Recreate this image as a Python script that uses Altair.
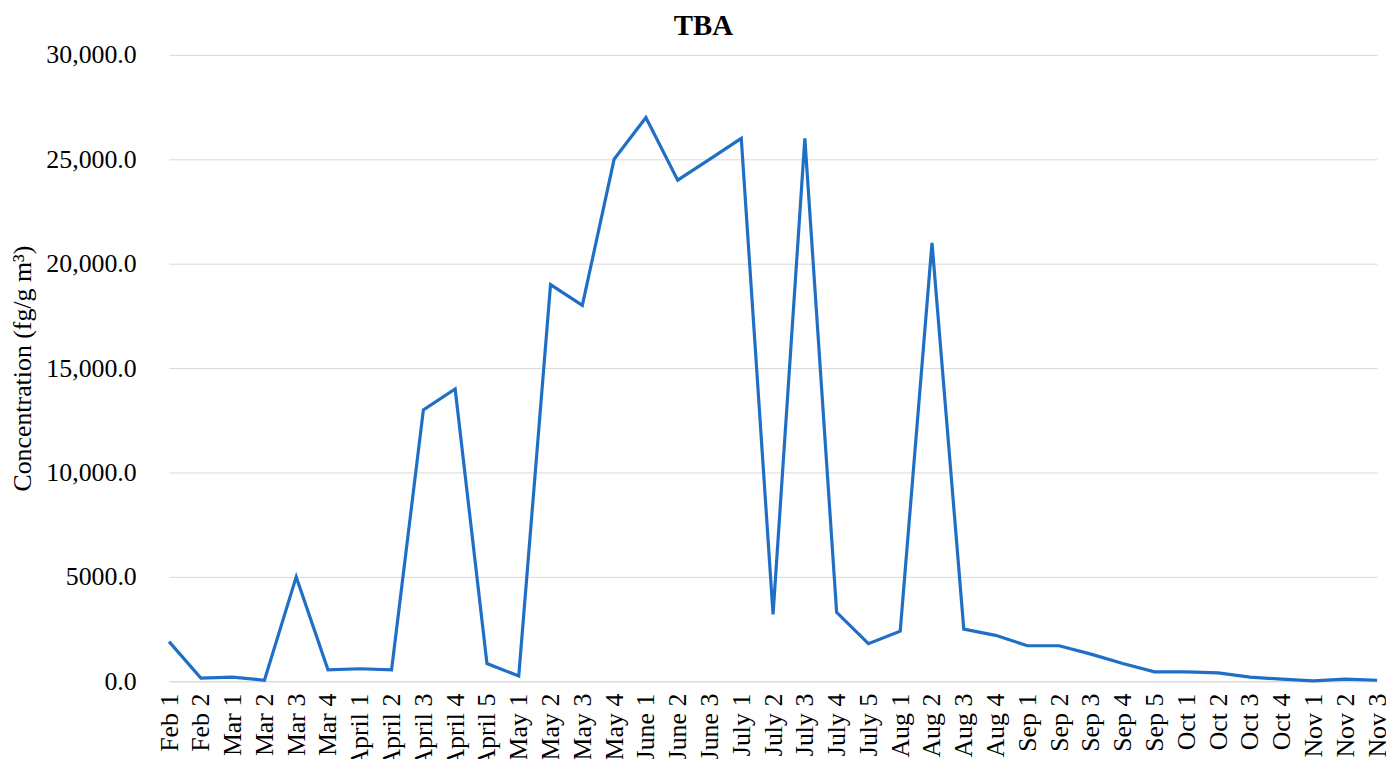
import altair as alt
import pandas as pd

labels = ["Feb 1", "Feb 2", "Mar 1", "Mar 2", "Mar 3", "Mar 4",
          "April 1", "April 2", "April 3", "April 4", "April 5",
          "May 1", "May 2", "May 3", "May 4",
          "June 1", "June 2", "June 3",
          "July 1", "July 2", "July 3", "July 4", "July 5",
          "Aug 1", "Aug 2", "Aug 3", "Aug 4",
          "Sep 1", "Sep 2", "Sep 3", "Sep 4", "Sep 5",
          "Oct 1", "Oct 2", "Oct 3", "Oct 4",
          "Nov 1", "Nov 2", "Nov 3"]
values = [1900, 150, 200, 50, 5000, 550,
          600, 550, 13000, 14000, 850,
          250, 19000, 18000, 25000,
          27000, 24000, 25000,
          26000, 3200, 26000, 3300, 1800,
          2400, 21000, 2500, 2200,
          1700, 1700, 1300, 850, 450,
          450, 400, 200, 100,
          20, 100, 50]

df = pd.DataFrame({"week": labels, "value": values})

FONT = "Liberation Serif"

chart = alt.Chart(df).mark_line(color="#1f6fc6", strokeWidth=3.2).encode(
    x=alt.X("week:N", sort=labels,
            scale=alt.Scale(type="point", range=[17, 1232], padding=0),
            axis=alt.Axis(title=None, labelAngle=270, labelAlign="right",
                          labelBaseline="middle", labelPadding=12, ticks=False,
                          domain=True, domainColor="#d9d9d9", grid=False,
                          labelFont=FONT, labelFontSize=26, labelColor="#000000",
                          labelOverlap=False)),
    y=alt.Y("value:Q",
            scale=alt.Scale(domain=[0, 30000], nice=False),
            axis=alt.Axis(title="Concentration (fg/g m³)", values=[0, 5000, 10000, 15000, 20000, 25000, 30000],
                          labelExpr="datum.value >= 10000 ? format(datum.value, ',.1f') : format(datum.value, '.1f')",
                          ticks=False, domain=False, gridColor="#d9d9d9", gridWidth=1,
                          labelPadding=16, labelFont=FONT, labelFontSize=26,
                          labelColor="#000000", titleFont=FONT, titleFontSize=26,
                          titleFontWeight="normal", titleColor="#000000", titlePadding=10)),
).properties(
    width=1241,
    height=630,
    title=alt.TitleParams("TBA", font=FONT, fontSize=29, fontWeight="bold",
                          color="#000000", anchor="middle", dx=-66, offset=1,
                          frame="group"),
    autosize=alt.AutoSizeParams(type="none"),
    padding={"left": 145, "top": 45, "right": 0, "bottom": 76},
).configure_view(stroke=None)

chart.save("out.html", embed_options={"renderer": "svg", "actions": False})
